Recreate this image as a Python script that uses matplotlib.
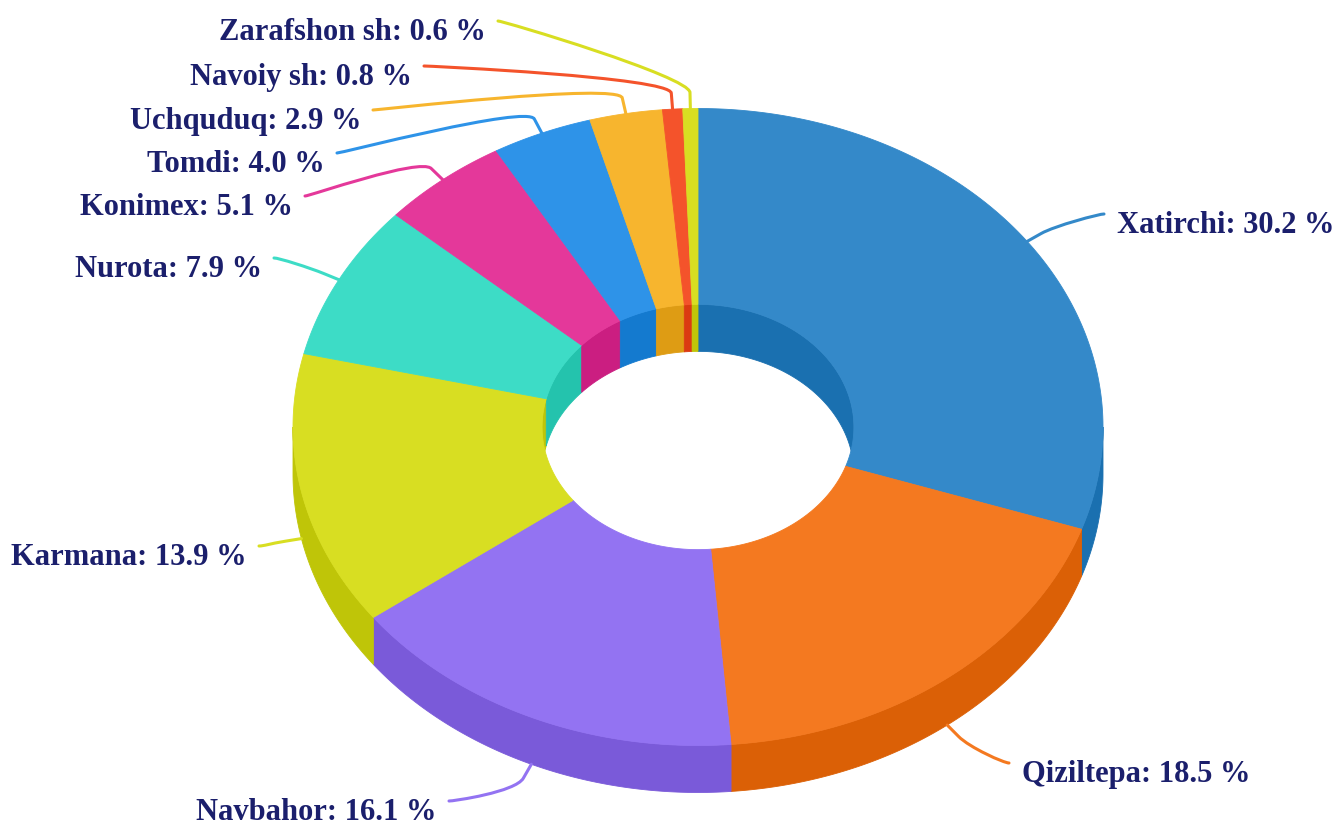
import numpy as np
import matplotlib.pyplot as plt
from matplotlib.patches import Polygon, PathPatch
from matplotlib.path import Path
from matplotlib.colors import to_rgb

# data
districts = ["Xatirchi", "Qiziltepa", "Navbahor", "Karmana", "Nurota",
             "Konimex", "Tomdi", "Uchquduq", "Navoiy sh", "Zarafshon sh"]
shares = [30.2, 18.5, 16.1, 13.9, 7.9, 5.1, 4.0, 2.9, 0.8, 0.6]
colors = ["#3489C9", "#F47920", "#9373F2", "#D8DE22", "#3DDCC6",
          "#E4389A", "#2E93E8", "#F7B52E", "#F4532B", "#D8DE22"]

# label placement (pixels): text anchor x, baseline y
label_x = [1117, 1022, 437, 247, 262, 293, 325, 361, 412, 486]
label_y = [233, 782, 820, 565, 277, 215, 172, 129, 85, 40]

# layout of the 3d donut in pixel space
W, H = 1340, 827
cx, cy = 698, 427
rx, ry = 405, 318.5
inner = 0.385
depth = 47
text_color = "#1B1F6C"


def darker(c, amount=25.5 / 255):
    r, g, b = to_rgb(c)
    return (max(r - amount, 0), max(g - amount, 0), max(b - amount, 0))


def pt(theta, r, dz=0.0):
    t = np.radians(theta)
    return np.column_stack([cx + rx * r * np.sin(t), cy - ry * r * np.cos(t) + dz])


def arc(a0, a1):
    n = max(int(abs(a1 - a0) * 2), 2)
    return np.linspace(a0, a1, n)


fig = plt.figure(figsize=(W / 100, H / 100), dpi=100)
ax = fig.add_axes([0, 0, 1, 1])
ax.set_xlim(0, W)
ax.set_ylim(H, 0)
ax.axis("off")

edges = np.concatenate([[0], np.cumsum(shares)]) / np.sum(shares) * 360

for i in range(len(shares)):
    a0, a1 = edges[i], edges[i + 1]
    side = darker(colors[i])

    # outer wall, only the front half shows
    lo, hi = max(a0, 90), min(a1, 270)
    if hi > lo:
        t = arc(lo, hi)
        poly = np.vstack([pt(t, 1), pt(t[::-1], 1, depth)])
        ax.add_patch(Polygon(poly, closed=True, fc=side, ec=side, lw=0.6, zorder=1))

    # inner wall, only the back half shows
    for lo, hi in [(max(a0, 0), min(a1, 90)), (max(a0, 270), min(a1, 360))]:
        if hi > lo:
            t = arc(lo, hi)
            poly = np.vstack([pt(t, inner), pt(t[::-1], inner, depth)])
            ax.add_patch(Polygon(poly, closed=True, fc=side, ec=side, lw=0.6, zorder=2))

    # top face
    t = arc(a0, a1)
    poly = np.vstack([pt(t, 1), pt(t[::-1], inner)])
    ax.add_patch(Polygon(poly, closed=True, fc=colors[i], ec=colors[i], lw=0.6, zorder=3))

    # connector + label
    mid = (a0 + a1) / 2
    m = np.radians(mid)
    dz = depth if np.cos(m) < 0 else 0
    touch = pt(mid, 1, dz)[0]
    d = np.array([np.sin(m), -np.cos(m) * ry / rx])
    d = d / np.hypot(*d) * 16
    brk = touch + d
    ctrl2 = brk + d
    left_side = np.sin(m) < 0
    ha = "right" if left_side else "left"
    ex = label_x[i] + 12 if left_side else label_x[i] - 13
    ey = label_y[i] - 19
    ctrl1 = (ex + 5 if left_side else ex - 5, ey)
    path = Path([(ex, ey), ctrl1, tuple(ctrl2), tuple(brk), tuple(touch)],
                [Path.MOVETO, Path.CURVE4, Path.CURVE4, Path.CURVE4, Path.LINETO])
    ax.add_patch(PathPatch(path, fc="none", ec=colors[i], lw=2.2,
                           capstyle="round", zorder=4))
    ax.text(label_x[i], label_y[i], f"{districts[i]}: {shares[i]:.1f} %",
            ha=ha, va="baseline", fontsize=22, fontweight="bold",
            fontfamily="Liberation Serif", color=text_color, zorder=5)

plt.savefig("out.png", dpi=100, facecolor="white")
